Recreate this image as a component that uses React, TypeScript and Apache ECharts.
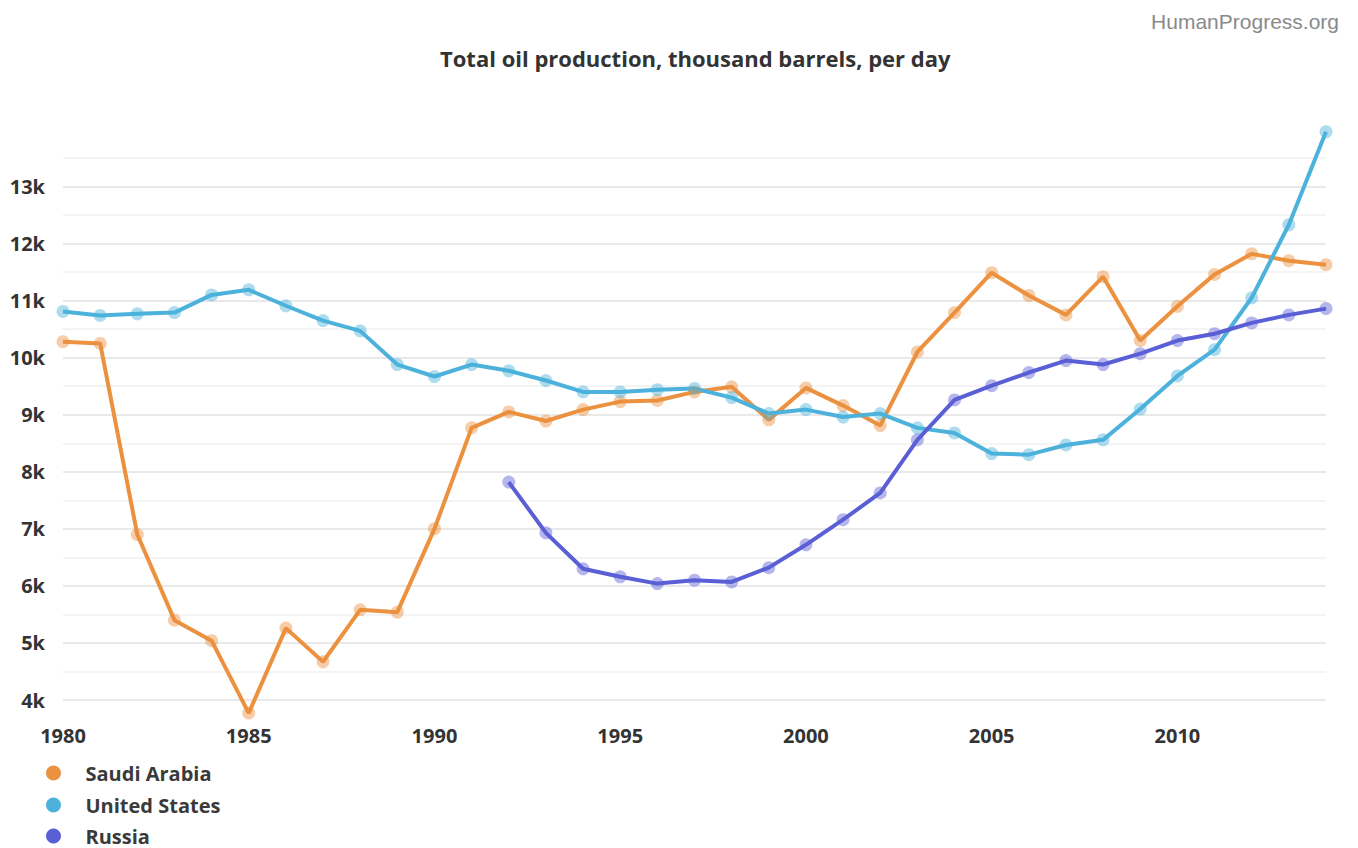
import React, { useEffect, useRef } from "react";
import * as echarts from "echarts";

const years: number[] = [];
for (let y = 1980; y <= 2014; y++) years.push(y);

const saudiArabia = [
  10280, 10250, 6900, 5400, 5040, 3770, 5260, 4670, 5580, 5540,
  7000, 8770, 9050, 8890, 9090, 9230, 9250, 9400, 9490, 8910,
  9470, 9160, 8810, 10100, 10790, 11490, 11090, 10750, 11420, 10300,
  10900, 11460, 11820, 11700, 11630,
];

const unitedStates = [
  10810, 10740, 10770, 10790, 11100, 11190, 10910, 10650, 10470, 9880,
  9670, 9880, 9770, 9600, 9400, 9400, 9440, 9460, 9300, 9020,
  9090, 8960, 9020, 8770, 8680, 8320, 8300, 8470, 8560, 9100,
  9680, 10140, 11050, 12330, 13960,
];

const russiaYears = [1992, 1993, 1994, 1995, 1996, 1997, 1998, 1999, 2000, 2001, 2002, 2003, 2004, 2005, 2006, 2007, 2008, 2009, 2010, 2011, 2012, 2013, 2014];
const russia = [
  7820, 6930, 6300, 6160, 6040, 6100, 6070, 6320, 6720, 7160, 7630,
  8560, 9260, 9510, 9740, 9950, 9880, 10070, 10300, 10420, 10610, 10750, 10860,
];

const seriesNames = ["Saudi Arabia", "United States", "Russia"];
const colors = ["#ec913f", "#4cb2dc", "#5a5fd5"];

const titleText = "Total oil production, thousand barrels, per day";
const sourceText = "HumanProgress.org";

export default function App() {
  const ref = useRef<HTMLDivElement>(null);
  useEffect(() => {
    if (!ref.current) return;
    const chart = echarts.init(ref.current, undefined, { renderer: "svg" });
    const font = "'Open Sans', 'Noto Sans', sans-serif";
    const mk = (name: string, xs: number[], vals: number[], color: string) => ({
      name,
      type: "line",
      data: xs.map((x, i) => [x, vals[i]]),
      clip: false,
      symbol: "circle",
      symbolSize: 13,
      showSymbol: true,
      lineStyle: { color, width: 4 },
      itemStyle: { color, opacity: 0.45 },
      emphasis: { disabled: true },
      z: 2,
    });
    const legendTops = [763, 795, 826];
    chart.setOption({
      animation: false,
      backgroundColor: "#ffffff",
      color: colors,
      title: [
        {
          text: titleText,
          left: 435,
          top: 42,
          textStyle: { fontFamily: font, fontWeight: "bold", fontSize: 22, color: "#333" },
        },
        {
          text: sourceText,
          right: 14,
          top: 6,
          textStyle: { fontFamily: "'Liberation Sans', Arial, sans-serif", fontWeight: "normal", fontSize: 21, color: "#8a8a8a" },
        },
      ],
      legend: seriesNames.map((n, i) => ({
        orient: "vertical",
        left: 46,
        top: legendTops[i],
        padding: 0,
        itemWidth: 30,
        itemHeight: 15,
        icon: "circle",
        data: [n],
        itemStyle: { opacity: 1 },
        textStyle: { fontFamily: font, fontWeight: "bold", fontSize: 20, color: "#3a3a3a", padding: [0, 0, 0, 12] },
      })),
      grid: { left: 63, right: 32, top: 158, bottom: 148 },
      xAxis: {
        type: "value",
        min: 1980,
        max: 2014,
        interval: 5,
        axisLine: { show: false },
        axisTick: { show: false },
        splitLine: { show: false },
        axisLabel: {
          margin: 25,
          showMaxLabel: false,
          fontFamily: font,
          fontWeight: "bold",
          fontSize: 20,
          color: "#333",
          formatter: (v: number) => (v % 5 === 0 ? String(v) : ""),
        },
      },
      yAxis: {
        type: "value",
        min: 4000,
        max: 13500,
        interval: 500,
        axisLine: { show: false },
        axisTick: { show: false },
        splitLine: { show: true, lineStyle: { color: ["#e2e2e2", "#f1f1f1"], width: 1.5 } },
        axisLabel: {
          margin: 18,
          fontFamily: font,
          fontWeight: "bold",
          fontSize: 20,
          color: "#333",
          formatter: (v: number) => (v % 1000 === 0 ? v / 1000 + "k" : ""),
        },
      },
      series: [
        mk(seriesNames[0], years, saudiArabia, colors[0]),
        mk(seriesNames[1], years, unitedStates, colors[1]),
        mk(seriesNames[2], russiaYears, russia, colors[2]),
      ],
    });
    return () => chart.dispose();
  }, []);
  return (
    <div
      ref={ref}
      style={{ position: "absolute", left: 0, top: 0, width: 1358, height: 848 }}
    />
  );
}
